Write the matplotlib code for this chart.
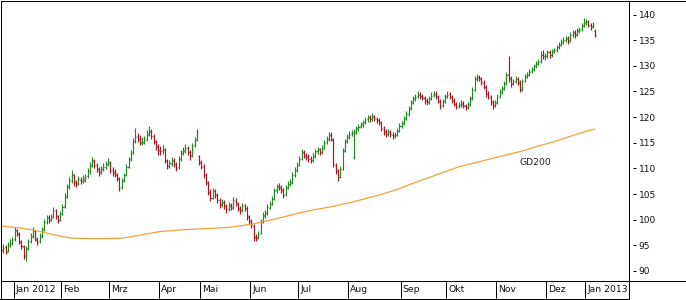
import matplotlib
matplotlib.use("Agg")
import matplotlib.pyplot as plt
from matplotlib.collections import LineCollection
from matplotlib.lines import Line2D

# ---------------- data (daily OHLC, trading-day index 0..261) ----------------
opens = [
    94.6, 94.0, 94.7, 93.9, 95.1, 95.4, 96.2, 97.9, 97.2, 95.7,
    94.6, 93.2, 94.4, 95.9, 96.9, 97.7, 96.0, 95.8, 96.8, 98.1,
    99.6, 100.5, 100.1, 100.6, 101.8, 100.7, 100.0, 101.1, 102.6, 104.5,
    106.5, 107.7, 108.8, 107.2, 107.1, 107.8, 107.6, 107.8, 108.5, 109.5,
    110.6, 111.5, 110.7, 109.8, 109.4, 109.9, 110.2, 110.9, 111.0, 109.7,
    109.3, 108.8, 107.9, 106.3, 107.7, 108.8, 110.3, 111.9, 113.1, 115.3,
    116.3, 115.8, 115.0, 115.1, 115.7, 116.8, 117.3, 116.3, 115.1, 114.3,
    113.6, 113.3, 113.5, 111.4, 110.4, 110.9, 111.5, 110.8, 110.2, 111.9,
    113.1, 113.4, 113.9, 113.1, 112.6, 114.5, 115.7, 112.4, 111.1, 110.4,
    108.7, 107.2, 105.3, 104.3, 105.5, 104.9, 103.8, 103.0, 103.3, 102.7,
    102.0, 102.7, 102.4, 103.7, 103.1, 102.1, 101.9, 102.8, 102.2, 100.7,
    99.8, 98.8, 96.7, 96.6, 97.5, 99.7, 100.8, 101.4, 102.3, 103.1,
    104.1, 105.7, 106.5, 106.2, 105.7, 105.0, 106.3, 107.0, 107.3, 108.8,
    109.7, 110.7, 111.9, 113.1, 112.5, 112.3, 111.9, 111.7, 112.5, 113.3,
    113.7, 113.1, 114.0, 115.1, 115.8, 116.6, 115.6, 110.7, 109.5, 108.4,
    109.9, 113.5, 115.3, 116.2, 116.7, 112.3, 117.1, 117.8, 118.2, 118.6,
    119.0, 119.6, 120.0, 119.7, 120.2, 119.7, 119.5, 118.9, 117.7, 117.1,
    116.8, 117.0, 116.6, 116.5, 116.6, 117.3, 118.3, 118.9, 119.8, 120.7,
    121.7, 122.9, 123.7, 124.1, 124.5, 124.1, 123.8, 123.2, 123.0, 123.7,
    124.3, 124.6, 124.0, 123.1, 122.3, 123.1, 124.1, 124.5, 123.9, 123.2,
    122.5, 122.1, 122.4, 122.6, 122.2, 122.0, 122.5, 123.7, 125.3, 127.5,
    127.9, 127.5, 126.7, 125.8, 124.5, 123.9, 122.9, 122.3, 122.9, 124.1,
    124.9, 125.6, 126.6, 128.4, 127.5, 126.6, 127.1, 127.4, 126.7, 125.4,
    127.1, 128.0, 128.4, 128.9, 129.4, 130.0, 130.5, 130.9, 132.2, 131.9,
    132.0, 132.7, 132.2, 132.9, 133.1, 133.7, 134.2, 134.7, 135.1, 135.4,
    135.0, 136.1, 136.5, 136.2, 136.9, 137.1, 137.9, 138.5, 138.7, 137.9,
    137.7, 136.8,
]
highs = [
    95.0, 95.2, 95.0, 95.6, 96.2, 96.6, 98.6, 98.2, 97.6, 96.0,
    95.0, 94.8, 96.3, 97.4, 98.5, 98.0, 96.6, 97.4, 98.6, 100.2,
    101.0, 101.0, 101.2, 102.4, 102.1, 101.0, 101.6, 103.1, 105.3, 107.0,
    108.3, 109.6, 109.0, 107.8, 108.6, 108.4, 108.7, 109.0, 110.0, 111.2,
    112.3, 111.9, 111.0, 110.3, 110.5, 111.0, 111.5, 112.1, 111.4, 110.2,
    109.8, 109.2, 108.3, 108.1, 109.2, 110.8, 112.3, 113.6, 116.0, 117.9,
    116.9, 116.5, 116.2, 116.3, 117.4, 118.3, 117.6, 116.8, 115.6, 114.8,
    114.4, 114.6, 113.9, 111.9, 111.7, 112.2, 112.0, 111.3, 112.4, 113.6,
    114.2, 114.7, 114.3, 113.6, 115.0, 116.1, 117.6, 112.7, 111.6, 110.9,
    109.2, 107.6, 105.9, 106.2, 106.0, 105.3, 104.3, 104.1, 103.8, 103.1,
    103.5, 103.2, 104.4, 104.2, 103.5, 102.6, 103.3, 103.1, 102.6, 101.0,
    100.2, 99.1, 97.2, 97.8, 100.2, 101.5, 101.9, 103.0, 103.6, 104.6,
    106.2, 107.0, 107.1, 106.7, 106.1, 106.8, 107.5, 107.9, 109.3, 110.2,
    111.3, 112.5, 113.7, 113.6, 113.0, 112.8, 112.4, 113.0, 113.8, 114.2,
    114.0, 114.5, 115.6, 116.3, 117.1, 117.0, 115.9, 111.1, 109.9, 110.4,
    114.0, 115.8, 116.7, 117.2, 117.5, 117.6, 118.3, 118.6, 119.1, 119.5,
    120.1, 120.5, 120.4, 120.8, 120.5, 120.1, 119.9, 119.3, 118.2, 117.6,
    117.7, 117.4, 117.0, 117.0, 117.8, 118.8, 119.3, 120.3, 121.2, 122.2,
    123.4, 124.2, 124.6, 125.0, 124.9, 124.6, 124.2, 123.7, 124.2, 124.8,
    125.1, 125.0, 124.4, 123.6, 123.6, 124.6, 125.0, 124.9, 124.3, 123.7,
    123.0, 123.0, 123.3, 123.1, 122.6, 123.0, 124.2, 125.8, 128.0, 128.4,
    128.2, 127.9, 127.2, 126.3, 125.0, 124.4, 123.4, 123.4, 124.6, 125.4,
    126.1, 127.1, 128.8, 132.0, 128.0, 127.5, 128.0, 127.9, 127.2, 127.5,
    128.4, 128.8, 129.3, 129.8, 130.4, 130.9, 131.3, 132.8, 133.0, 132.5,
    133.1, 133.0, 133.3, 133.5, 134.1, 134.6, 135.2, 135.6, 135.9, 135.8,
    136.6, 137.0, 136.9, 137.3, 137.6, 138.4, 139.3, 139.1, 139.0, 138.3,
    138.5, 137.2,
]
lows = [
    93.2, 93.6, 93.3, 93.7, 94.6, 95.0, 95.9, 96.8, 95.3, 94.2,
    92.4, 92.0, 94.0, 95.5, 96.5, 95.8, 95.0, 95.5, 96.5, 97.8,
    99.2, 99.4, 99.8, 100.3, 100.2, 99.3, 99.7, 100.9, 102.3, 104.2,
    106.0, 107.2, 106.6, 106.4, 106.8, 106.9, 107.1, 107.4, 108.1, 109.0,
    110.2, 110.0, 109.3, 108.6, 108.9, 109.5, 109.9, 110.4, 109.1, 108.6,
    108.3, 107.5, 105.6, 106.0, 107.3, 108.5, 110.0, 111.5, 112.8, 115.0,
    115.1, 114.6, 114.5, 114.8, 115.3, 116.4, 115.8, 114.8, 113.6, 112.7,
    112.6, 112.9, 111.0, 109.8, 110.0, 110.5, 110.3, 109.4, 109.9, 111.5,
    112.6, 113.0, 112.6, 111.6, 112.3, 114.1, 115.3, 110.7, 109.8, 108.2,
    106.8, 104.9, 103.6, 104.0, 104.2, 103.3, 102.3, 102.5, 102.0, 101.4,
    101.7, 101.8, 102.1, 102.6, 101.6, 101.2, 101.5, 101.7, 100.0, 99.1,
    98.3, 95.8, 95.9, 96.2, 97.2, 99.4, 100.3, 101.0, 102.0, 102.8,
    103.8, 105.3, 105.7, 105.2, 104.3, 104.7, 105.9, 106.6, 107.0, 108.4,
    109.3, 110.4, 111.6, 112.0, 111.6, 111.2, 111.0, 111.3, 112.1, 112.9,
    112.6, 112.8, 113.7, 114.7, 115.4, 115.3, 110.3, 108.9, 107.5, 108.1,
    109.6, 113.1, 114.9, 115.8, 116.3, 111.8, 116.7, 117.3, 117.8, 118.1,
    118.6, 119.1, 119.0, 119.3, 119.3, 118.8, 118.4, 117.3, 116.6, 116.1,
    116.4, 116.2, 115.8, 115.9, 116.3, 117.0, 117.9, 118.5, 119.4, 120.3,
    121.4, 122.5, 123.2, 123.7, 123.6, 123.3, 122.6, 122.3, 122.6, 123.3,
    123.9, 123.6, 122.7, 121.6, 121.9, 122.8, 123.7, 123.5, 122.8, 122.1,
    121.5, 121.7, 122.0, 121.8, 121.3, 121.6, 122.2, 123.4, 125.0, 127.0,
    127.0, 126.3, 125.4, 124.0, 123.5, 122.4, 121.6, 121.9, 122.6, 123.7,
    124.5, 125.2, 126.3, 126.9, 125.9, 126.2, 126.6, 126.3, 124.8, 125.1,
    126.8, 127.6, 128.0, 128.5, 129.0, 129.6, 130.1, 130.6, 131.4, 131.2,
    131.6, 131.5, 131.8, 132.4, 132.7, 133.2, 133.8, 134.3, 134.6, 134.2,
    134.7, 135.7, 135.5, 135.8, 136.4, 136.8, 137.6, 137.9, 137.5, 137.0,
    137.3, 135.6,
]
closes = [
    94.1, 94.5, 93.8, 95.0, 95.5, 96.0, 97.8, 97.4, 95.8, 94.8,
    93.0, 94.2, 95.8, 96.8, 97.9, 96.2, 95.6, 96.9, 98.0, 99.6,
    100.3, 100.0, 100.6, 101.6, 100.8, 99.9, 101.2, 102.5, 104.6, 106.4,
    107.6, 108.9, 107.3, 107.0, 108.0, 107.5, 107.9, 108.4, 109.4, 110.5,
    111.6, 110.6, 109.9, 109.3, 109.8, 110.3, 110.8, 111.2, 109.6, 109.2,
    108.9, 108.1, 106.2, 107.6, 108.7, 110.2, 111.8, 112.9, 115.4, 116.2,
    115.7, 115.1, 115.0, 115.6, 116.6, 117.1, 116.4, 115.3, 114.2, 113.5,
    113.4, 113.7, 111.6, 110.5, 111.0, 111.6, 110.9, 110.1, 111.8, 113.0,
    113.5, 114.0, 113.2, 112.5, 114.4, 115.6, 117.0, 111.2, 110.3, 108.8,
    107.3, 105.4, 104.2, 105.6, 104.8, 103.9, 102.9, 103.4, 102.6, 102.1,
    102.8, 102.3, 103.8, 103.2, 102.2, 101.8, 102.7, 102.3, 100.6, 99.6,
    99.0, 96.6, 96.5, 97.3, 99.6, 100.9, 101.3, 102.4, 103.0, 104.0,
    105.6, 106.4, 106.3, 105.8, 104.9, 106.2, 106.9, 107.2, 108.7, 109.6,
    110.6, 111.8, 113.0, 112.6, 112.2, 111.8, 111.6, 112.4, 113.2, 113.6,
    113.2, 113.9, 115.0, 115.7, 116.5, 115.8, 110.8, 109.6, 108.3, 109.8,
    113.4, 115.2, 116.1, 116.6, 116.9, 117.0, 117.7, 118.1, 118.5, 118.9,
    119.5, 119.9, 119.6, 120.1, 119.8, 119.4, 119.0, 117.8, 117.2, 116.7,
    117.1, 116.7, 116.4, 116.5, 117.2, 118.2, 118.8, 119.7, 120.6, 121.6,
    122.8, 123.6, 124.0, 124.4, 124.2, 123.9, 123.3, 122.9, 123.6, 124.2,
    124.5, 124.1, 123.2, 122.2, 123.0, 124.0, 124.4, 124.0, 123.3, 122.6,
    122.0, 122.3, 122.7, 122.3, 121.9, 122.4, 123.6, 125.2, 127.4, 127.8,
    127.6, 126.8, 125.9, 124.6, 124.0, 123.0, 122.2, 122.8, 124.0, 124.8,
    125.5, 126.5, 128.2, 127.6, 126.5, 127.0, 127.5, 126.8, 125.3, 127.0,
    127.9, 128.3, 128.8, 129.3, 129.9, 130.4, 130.8, 132.1, 132.0, 131.9,
    132.6, 132.1, 132.8, 133.0, 133.6, 134.1, 134.6, 135.0, 135.3, 134.9,
    136.0, 136.4, 136.1, 136.8, 137.0, 137.8, 138.4, 138.6, 138.0, 137.6,
    137.9, 136.0,
]

# 200-day moving average (GD200), read at selected trading-day indices
gd200_idx = [0, 8, 14, 21, 27, 31, 42, 53, 60, 66, 70, 76, 82, 92, 100, 110, 116,
             122, 130, 137, 146, 154, 160, 166, 174, 181, 191, 201, 210, 219,
             229, 238, 245, 251, 256, 261]
gd200_val = [98.8, 98.4, 98.0, 97.3, 96.7, 96.4, 96.3, 96.4, 96.9, 97.4, 97.7,
             97.9, 98.1, 98.3, 98.5, 99.1, 99.7, 100.3, 101.2, 101.9, 102.6,
             103.4, 104.1, 104.8, 105.9, 107.1, 108.7, 110.3, 111.3, 112.3,
             113.4, 114.6, 115.5, 116.4, 117.1, 117.7]

# first trading-day index of each month, and month labels
month_start = [6, 27, 48, 70, 88, 110, 131, 153, 176, 196, 218, 240, 257]
month_labels = ["Jan 2012", "Feb", "Mrz", "Apr", "Mai", "Jun", "Jul", "Aug",
                "Sep", "Okt", "Nov", "Dez", "Jan 2013"]
y_ticks = [90, 95, 100, 105, 110, 115, 120, 125, 130, 135, 140]

assert len(opens) == len(highs) == len(lows) == len(closes)
assert len(gd200_idx) == len(gd200_val)

# ---------------- figure ----------------
W, H = 686, 300
fig = plt.figure(figsize=(W / 100, H / 100), dpi=100)
fig.patch.set_facecolor("white")

ax_l, ax_r, ax_t, ax_b = 0.5, 629.0, 0.5, 281.0   # pixel box of the plot area
ax = fig.add_axes([ax_l / W, 1 - ax_b / H, (ax_r - ax_l) / W, (ax_b - ax_t) / H])

GREEN = "#1f8a22"
RED = "#ad1424"
LW = 0.85
tw = 0.45

segs, cols = [], []
for i, (o, h, l, c) in enumerate(zip(opens, highs, lows, closes)):
    col = GREEN if c >= o else RED
    segs += [[(i, l), (i, h)], [(i - tw, o), (i, o)], [(i, c), (i + tw, c)]]
    cols += [col] * 3
ax.add_collection(LineCollection(segs, colors=cols, linewidths=LW, capstyle="butt"))

ax.plot(gd200_idx, gd200_val, color="#eda23c", lw=0.9, solid_capstyle="butt")
ax.text(234.5, 111.1, "GD200", fontsize=6.7, color="#222222", ha="center", va="center")

ax.set_xlim(-0.22, 275.8)
ax.set_ylim(88.05, 142.73)

# x axis: month separators and labels
tick_pos = [m - 0.5 for m in month_start]
ax.set_xticks(tick_pos)
ax.set_xticklabels([""] * len(tick_pos))
ax.tick_params(axis="x", direction="out", length=12.3, width=0.72, color="black")
for p, lab in zip(tick_pos, month_labels):
    ax.annotate(lab, xy=(p, 0), xycoords=("data", "axes fraction"),
                xytext=(2, -9), textcoords="offset pixels",
                ha="left", va="center", fontsize=6.7, color="#111111")

# y axis on the right with small detached dashes
ax.yaxis.tick_right()
ax.set_yticks(y_ticks)
ax.set_yticklabels([str(v) for v in y_ticks])
ax.spines["right"].set_position(("outward", 3.0))
ax.spines["right"].set_visible(False)
ax.tick_params(axis="y", direction="out", length=2.4, width=0.72, pad=1.6,
               labelsize=6.5, color="black", labelcolor="#111111")
ax.plot([1, 1], [0, 1], transform=ax.transAxes, color="black", lw=0.72, clip_on=False)
for s in ("left", "top", "bottom"):
    ax.spines[s].set_linewidth(0.72)
    ax.spines[s].set_color("black")


def fline(x0, y0, x1, y1):
    fig.add_artist(Line2D([x0 / W, x1 / W], [1 - y0 / H, 1 - y1 / H],
                          transform=fig.transFigure, color="black", lw=0.72))


fline(629, 0.5, 686, 0.5)        # top of right panel
fline(685.5, 0, 685.5, 281)      # right edge of right panel
fline(629, 281, 686, 281)        # bottom of right panel
fline(0.5, 281, 0.5, 298.5)      # left edge of date band
fline(0, 298.5, 629, 298.5)      # bottom of date band
fline(629, 281, 629, 298.5)      # right edge of date band

fig.savefig("out.png", dpi=100, facecolor="white")
